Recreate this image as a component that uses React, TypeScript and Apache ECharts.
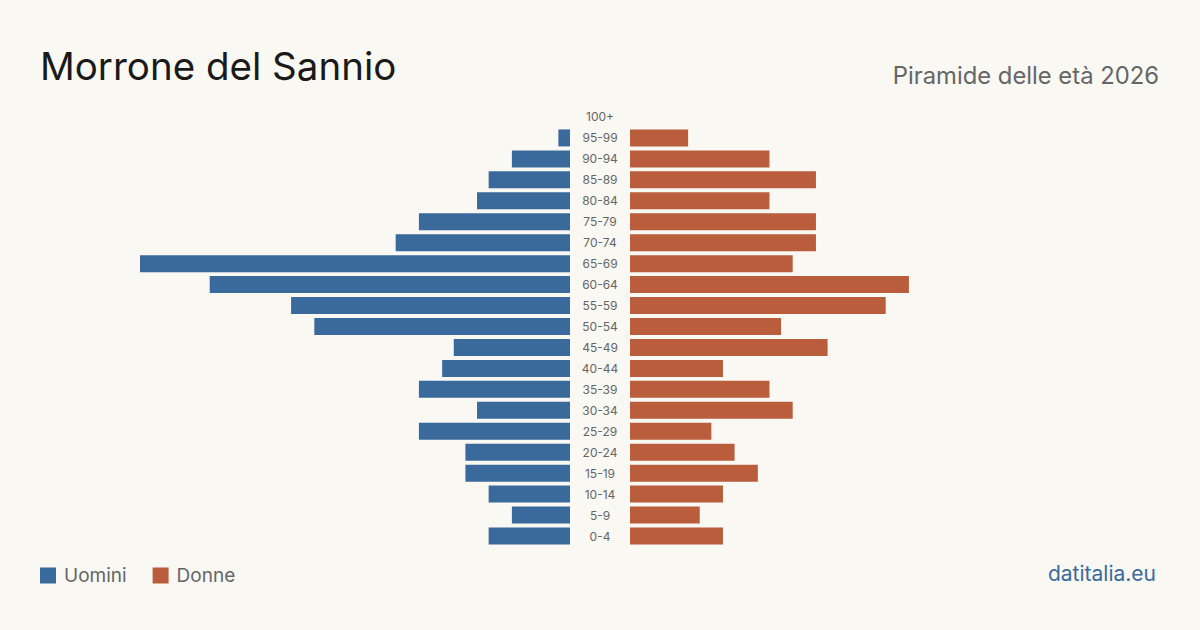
import React, { useEffect, useRef } from "react";
import * as echarts from "echarts";

const ageGroups = ["0-4","5-9","10-14","15-19","20-24","25-29","30-34","35-39","40-44","45-49","50-54","55-59","60-64","65-69","70-74","75-79","80-84","85-89","90-94","95-99","100+"];
const male = [7,5,7,9,9,13,8,13,11,10,22,24,31,37,15,13,8,7,5,1,0];
const female = [8,6,8,11,9,7,14,12,8,17,13,22,24,14,16,16,12,16,12,5,0];

const BLUE = "#3a6a9c";
const ORANGE = "#b95d3d";
const BG = "#f9f8f3";
const FONT = "Inter, 'Noto Sans', sans-serif";

export default function App() {
  const ref = useRef<HTMLDivElement>(null);
  useEffect(() => {
    if (!ref.current) return;
    const chart = echarts.init(ref.current, null, { renderer: "svg" });
    const maxV = Math.max(...male, ...female);
    chart.setOption({
      animation: false,
      backgroundColor: BG,
      textStyle: { fontFamily: FONT },
      title: [
        { text: "Morrone del Sannio", left: 40, top: 46, padding: 0, textStyle: { fontSize: 38.5, fontWeight: 400, color: "#1a1a1a", fontFamily: FONT } },
        { text: "Piramide delle età 2026", right: 41, top: 63, padding: 0, textStyle: { fontSize: 23.8, fontWeight: 400, color: "#666", fontFamily: FONT } },
      ],
      legend: {
        left: 40, top: 566, padding: 0, icon: "rect", itemWidth: 16, itemHeight: 16, itemGap: 26,
        textStyle: { fontSize: 19, color: "#666", fontFamily: FONT, padding: [0, 0, 0, 3] },
        data: ["Uomini", "Donne"],
      },
      graphic: [
        { type: "text", right: 44, top: 563, style: { text: "datitalia.eu", fontSize: 21, fill: BLUE, fontFamily: FONT } },
      ],
      grid: [
        { left: 140, right: 630, top: 106.5, height: 440 },
        { left: 630, right: 140, top: 106.5, height: 440 },
      ],
      xAxis: [
        { type: "value", gridIndex: 0, inverse: true, min: 0, max: maxV, show: false },
        { type: "value", gridIndex: 1, min: 0, max: maxV, show: false },
      ],
      yAxis: [
        {
          type: "category", gridIndex: 0, data: ageGroups, position: "right",
          axisLine: { show: false }, axisTick: { show: false },
          axisLabel: { align: "center", margin: 30, fontSize: 12, color: "#666", fontFamily: FONT },
        },
        {
          type: "category", gridIndex: 1, data: ageGroups, show: false,
        },
      ],
      series: [
        { name: "Uomini", type: "bar", xAxisIndex: 0, yAxisIndex: 0, data: male, barWidth: 17, itemStyle: { color: BLUE } },
        { name: "Donne", type: "bar", xAxisIndex: 1, yAxisIndex: 1, data: female, barWidth: 17, itemStyle: { color: ORANGE } },
      ],
      color: [BLUE, ORANGE],
    });
    return () => chart.dispose();
  }, []);
  return <div ref={ref} style={{ width: 1200, height: 630, position: "absolute", left: 0, top: 0 }} />;
}
